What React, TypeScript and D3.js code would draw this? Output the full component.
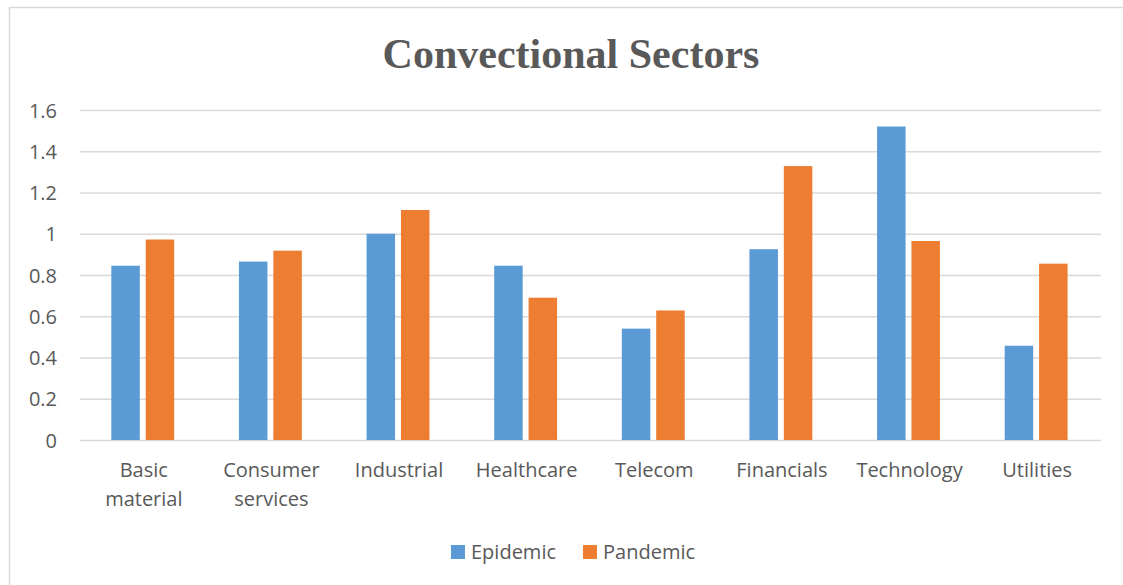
import { useEffect, useRef } from 'react';
import * as d3 from 'd3';

const categories = [
  ['Basic', 'material'],
  ['Consumer', 'services'],
  ['Industrial'],
  ['Healthcare'],
  ['Telecom'],
  ['Financials'],
  ['Technology'],
  ['Utilities'],
];
const epidemic = [0.845, 0.865, 1.0, 0.845, 0.54, 0.925, 1.52, 0.457];
const pandemic = [0.972, 0.918, 1.115, 0.69, 0.628, 1.328, 0.965, 0.855];
const seriesNames = ['Epidemic', 'Pandemic'];
const yTicks = [0, 0.2, 0.4, 0.6, 0.8, 1, 1.2, 1.4, 1.6];

const size = { width: 1123, height: 585 };
const MARGIN = { top: 110, right: 22, bottom: 145, left: 80 };

const color = {
  epidemic: '#5b9bd5',
  pandemic: '#ed7d31',
  grid: '#d9d9d9',
  text: '#595959',
  frame: '#d9d9d9',
};

const labelFont = '"Open Sans", "Noto Sans", sans-serif';
const labelSize = 20;

const App = () => {
  const ref = useRef<SVGSVGElement>(null);

  useEffect(() => {
    const svg = d3.select(ref.current);
    svg.selectAll('*').remove();

    const boundsWidth = size.width - MARGIN.left - MARGIN.right;
    const boundsHeight = size.height - MARGIN.top - MARGIN.bottom;

    // frame of the chart area
    svg
      .append('rect')
      .attr('x', 9.5)
      .attr('y', 7.5)
      .attr('width', size.width + 20)
      .attr('height', size.height + 20)
      .attr('fill', 'white')
      .attr('stroke', color.frame)
      .attr('stroke-width', 1.5);

    svg
      .append('text')
      .attr('x', 571)
      .attr('y', 68)
      .attr('text-anchor', 'middle')
      .attr('font-family', '"Liberation Serif", "Times New Roman", serif')
      .attr('font-weight', 700)
      .attr('font-size', 42)
      .attr('fill', color.text)
      .text('Convectional Sectors');

    const g = svg.append('g').attr('transform', `translate(${MARGIN.left},${MARGIN.top})`);

    const yScale = d3.scaleLinear().domain([0, 1.6]).range([boundsHeight, 0]);
    const xScale = d3
      .scaleBand<number>()
      .domain(d3.range(categories.length))
      .range([0, boundsWidth])
      .paddingInner(0)
      .paddingOuter(0);
    const groupWidth = 65;
    const barWidth = 28.5;
    const inner = d3
      .scaleBand<number>()
      .domain([0, 1])
      .range([0, groupWidth])
      .paddingInner(0.11);

    // gridlines + y labels
    const yAxis = g
      .append('g')
      .call(d3.axisLeft(yScale).tickValues(yTicks).tickSize(-boundsWidth).tickFormat(d => String(+d)));
    yAxis.select('.domain').remove();
    yAxis.selectAll('.tick line').attr('stroke', color.grid).attr('stroke-width', 1.5);
    yAxis
      .selectAll('.tick text')
      .attr('x', -23)
      .attr('dy', '0.36em')
      .attr('fill', color.text)
      .attr('font-family', labelFont)
      .attr('font-size', labelSize);

    // bars
    [epidemic, pandemic].forEach((values, s) => {
      g.append('g')
        .selectAll('rect')
        .data(values)
        .join('rect')
        .attr('x', (_, i) => xScale(i)! + xScale.bandwidth() / 2 - groupWidth / 2 + inner(s)!)
        .attr('width', barWidth)
        .attr('y', d => yScale(d))
        .attr('height', d => boundsHeight - yScale(d))
        .attr('fill', s === 0 ? color.epidemic : color.pandemic);
    });

    // x labels
    const xl = g.append('g');
    categories.forEach((lines, i) => {
      const t = xl
        .append('text')
        .attr('text-anchor', 'middle')
        .attr('fill', color.text)
        .attr('font-family', labelFont)
        .attr('font-size', labelSize);
      lines.forEach((line, j) => {
        t.append('tspan')
          .attr('x', xScale(i)! + xScale.bandwidth() / 2)
          .attr('y', boundsHeight + 37 + j * 29)
          .text(line);
      });
    });

    // legend
    const legend = svg.append('g').attr('transform', 'translate(451,552)');
    const legendX = [0, 132];
    seriesNames.forEach((name, i) => {
      const item = legend.append('g').attr('transform', `translate(${legendX[i]},0)`);
      item
        .append('rect')
        .attr('x', 0)
        .attr('y', -7)
        .attr('width', 14)
        .attr('height', 14)
        .attr('fill', i === 0 ? color.epidemic : color.pandemic);
      item
        .append('text')
        .attr('x', 20)
        .attr('dy', '0.36em')
        .attr('fill', color.text)
        .attr('font-family', labelFont)
        .attr('font-size', labelSize)
        .text(name);
    });
  }, []);

  return (
    <div style={{ position: 'absolute', left: 0, top: 0 }}>
      <svg ref={ref} width={size.width} height={size.height} style={{ display: 'block' }} />
    </div>
  );
};

export default App;
